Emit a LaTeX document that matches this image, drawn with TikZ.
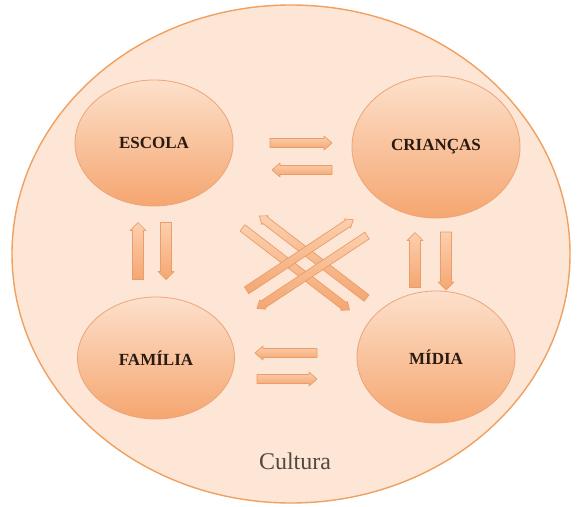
\documentclass[tikz,border=0pt]{standalone}
\usepackage{fontspec}
\setmainfont{Liberation Serif}
\usetikzlibrary{calc}
\definecolor{bgfill}{HTML}{FDE6D5}
\definecolor{bgline}{HTML}{F0A060}
\definecolor{elltop}{HTML}{FDE0CB}
\definecolor{ellbot}{HTML}{F5A670}
\definecolor{ellline}{HTML}{EDA478}
\definecolor{arrtop}{HTML}{FBCFAE}
\definecolor{arrbot}{HTML}{F4A772}
\definecolor{arrline}{HTML}{EC9C68}
\definecolor{txt}{HTML}{2A1A10}
\tikzset{
  bubble/.style={ellipse, draw=ellline, line width=0.8pt, top color=elltop, bottom color=ellbot, inner sep=0pt, font=\fontsize{17}{17}\selectfont\bfseries, text=txt},
  barrowst/.style={draw=arrline, line width=0.7pt, top color=arrtop, bottom color=arrbot, line join=round},
  pics/barrow/.style n args={4}{code={
    \path[barrowst] (-#1/2,-#2) -- (#1/2-#4,-#2) -- (#1/2-#4,-#3) -- (#1/2,0) -- (#1/2-#4,#3) -- (#1/2-#4,#2) -- (-#1/2,#2) -- cycle;
  }}
}
\usetikzlibrary{shapes.geometric}
\begin{document}
\begin{tikzpicture}[x=1pt,y=-1pt]
\useasboundingbox (0,0) rectangle (580,506);
% outer ellipse
\node[ellipse, draw=bgline, line width=1.4pt, fill=bgfill, minimum width=558pt, minimum height=498pt, inner sep=0pt] (cultura) at (291,254) {};
\node[font=\fontsize{24}{24}\selectfont, text=txt!80] (cult) at (295,461) {Cultura};
% bubbles
\node[bubble, minimum width=158pt, minimum height=126pt] (escola) at (154,143) {ESCOLA};
\node[bubble, minimum width=168pt, minimum height=142pt] (criancas) at (436,147) {CRIANÇAS};
\node[bubble, minimum width=157pt, minimum height=122pt] (familia) at (156,358) {FAMÍLIA};
\node[bubble, minimum width=158pt, minimum height=132pt] (midia) at (436,357) {MÍDIA};
% horizontal arrows top
\pic[rotate=0] at (301,143) {barrow={62}{4.5}{7}{8}};
\pic[rotate=180] at (302,170) {barrow={60}{4.5}{7}{8}};
% horizontal arrows bottom
\pic[rotate=180] at (286,353) {barrow={62}{4.5}{7}{8}};
\pic[rotate=0] at (287,379) {barrow={60}{4.5}{7}{8}};
% vertical arrows left
\pic[rotate=90] at (138,251) {barrow={57}{5.5}{8}{8}};
\pic[rotate=-90] at (166,251) {barrow={57}{5.5}{8}{8}};
% vertical arrows right
\pic[rotate=90] at (415,260) {barrow={55}{5.5}{8}{8}};
\pic[rotate=-90] at (446,261) {barrow={58}{5.5}{8}{8}};
% diagonal arrows
\pic[rotate=-37.5] at (296,269) {barrow={135}{4}{5.5}{7}};
\pic[rotate=142.5] at (313,257) {barrow={135}{4}{5.5}{7}};
\pic[rotate=33.5] at (300,255) {barrow={128}{4}{5.5}{7}};
\pic[rotate=213.5] at (312,272) {barrow={132}{4}{5.5}{7}};
\end{tikzpicture}
\end{document}
